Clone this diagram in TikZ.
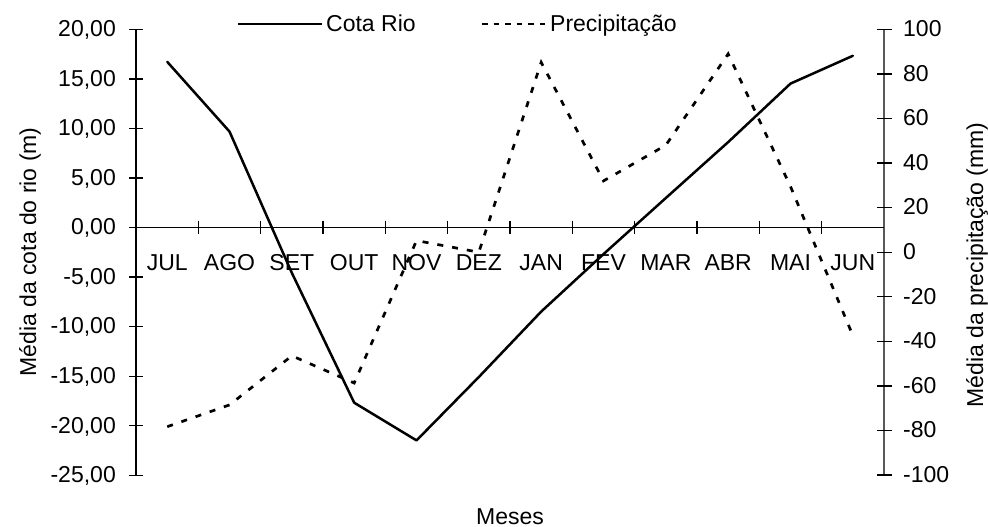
\documentclass[tikz,border=0pt]{standalone}
\usepackage{fontspec}
\setmainfont{Liberation Sans}
\begin{document}
\begin{tikzpicture}[x=1pt,y=-1pt,
  axis/.style={line width=1.3pt,black},
  raxis/.style={line width=1.3pt,black!65},
  tickmark/.style={line width=1.3pt,black},
  lbl/.style={inner sep=0pt,font=\fontsize{23}{27}\selectfont},
  cota/.style={line width=2.5pt,line join=round,line cap=round},
  prec/.style={line width=2.7pt,dash pattern=on 6pt off 9pt}]
\useasboundingbox (0,0) rectangle (988,527);
% left axis
\draw[axis] (136,29.3) coordinate (ltop) -- (136,475) coordinate (lbot);
\foreach \i/\a in {0/20,1/15,2/10,3/5,4/0,5/-5,6/-10,7/-15,8/-20,9/-25}{
  \draw[tickmark] (129,{29.3+\i*49.56}) -- (143,{29.3+\i*49.56});
  \node[lbl,anchor=base east] (lt\i) at (116,{29.3+\i*49.56+7.3}) {\a,00};
}
% right axis
\draw[raxis] (884,29.3) coordinate (rtop) -- (884,475) coordinate (rbot);
\foreach \i in {0,...,10}{
  \pgfmathtruncatemacro{\v}{100-20*\i}
  \draw[tickmark] (877,{29.3+\i*44.57}) -- (892,{29.3+\i*44.57});
  \node[lbl,anchor=base west] (rt\i) at (903,{29.3+\i*44.57+7.3}) {\v};
}
% x axis
\draw[axis] (136,227.3) coordinate (x0) -- (884,227.3) coordinate (x1);
\foreach \k in {1,...,11}{
  \draw[tickmark] ({136+62.33*\k},220.5) -- ({136+62.33*\k},234);
}
\foreach \m [count=\k from 0] in {JUL,AGO,SET,OUT,NOV,DEZ,JAN,FEV,MAR,ABR,MAI,JUN}{
  \node[lbl,anchor=base] (m\k) at ({167.2+62.33*\k},270) {\m};
}
% data
\foreach \y [count=\k from 0] in {61.8,131.6,272.9,402.7,440.4,377.0,311.6,254.1,198.0,142.1,83.6,55.8}{
  \coordinate (c\k) at ({167.2+62.33*\k},\y);
}
\foreach \y [count=\k from 0] in {426.7,404.9,355.8,383.0,240.6,252.2,62.3,180.9,145.2,53.9,186.5,335.5}{
  \coordinate (p\k) at ({167.2+62.33*\k},\y);
}
\draw[prec] (p0) \foreach \k in {1,...,11}{ -- (p\k) };
\draw[cota] (c0) \foreach \k in {1,...,11}{ -- (c\k) };
% legend
\coordinate (la) at (238,24);
\coordinate (lb) at (322,24);
\coordinate (lc) at (482,24);
\coordinate (ld) at (546,24);
\draw[line width=2.2pt] (la) -- (lb);
\node[lbl,anchor=base west] (lcota) at (326,31.7) {Cota Rio};
\draw[line width=2.5pt,dash pattern=on 5.5pt off 6pt] (lc) -- (ld);
\node[lbl,anchor=base west] (lprec) at (550,31.7) {Precipitação};
% axis titles
\node[lbl,rotate=90,anchor=base] (ytitle) at (36,252) {Média da cota do rio (m)};
\node[lbl,rotate=90,anchor=base] (y2title) at (983,265) {Média da precipitação (mm)};
\node[lbl,anchor=base] (xtitle) at (510,524) {Meses};
\end{tikzpicture}
\end{document}
